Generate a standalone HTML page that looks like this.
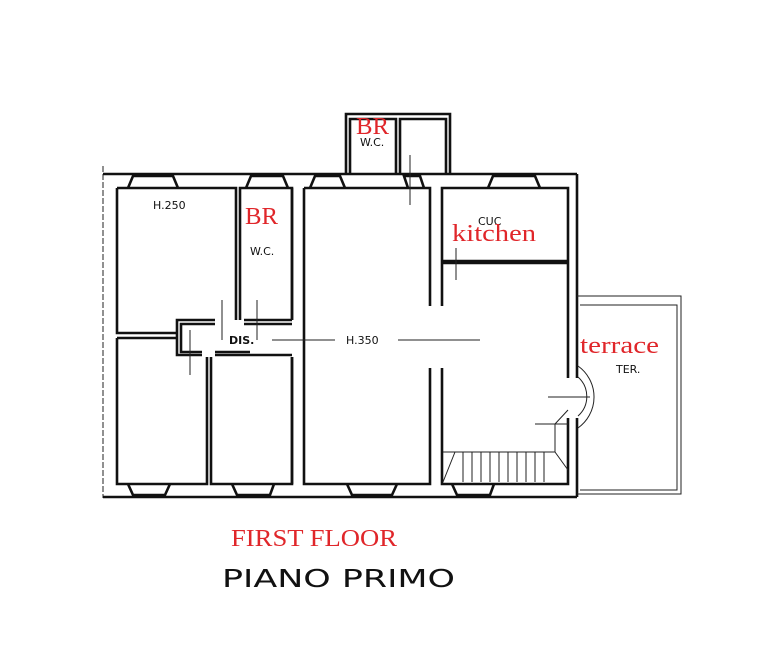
<!DOCTYPE html>
<html><head><meta charset="utf-8"><style>
html,body{margin:0;padding:0;background:#fff;width:760px;height:656px;overflow:hidden}
svg{display:block}
.w{fill:none;stroke:#111;stroke-width:2.6}
.t{fill:none;stroke:#222;stroke-width:1}
.h{font-family:"DejaVu Sans","Liberation Sans",sans-serif;fill:#111;font-size:11px}
.r{font-family:"Liberation Serif",serif;fill:#e0262a}
</style></head><body>
<svg width="760" height="656" viewBox="0 0 760 656" xmlns="http://www.w3.org/2000/svg">
<path class="t" d="M103 166 V498" stroke-dasharray="6 2"/>
<line class="w" x1="103" y1="174" x2="577" y2="174"/>
<line class="w" x1="103" y1="497" x2="577" y2="497"/>
<path class="w" d="M577 174 V378 M577 418 V497"/>
<path class="w" d="M346 174 V114 H450 V174"/>
<path class="w" d="M350 174 V119 H396 V174 M400 174 V119 H446 V174"/>
<path class="w" d="M117 188 H236 V320 M117 188 V333 H177"/>
<path class="w" d="M240 320 V188 H292 V320"/>
<path class="w" d="M177 333 V320 H215 M244 320 H292 M181 338 V324 H215 M244 324 H292"/>
<path class="w" d="M177 333 V355 H202 M181 338 V352 H202 M215 355 H292 M215 352 H250"/>
<path class="w" d="M117 338 H177 M117 338 V484 H207 V357 M211 357 V484 H292 V357"/>
<path class="w" d="M304 188 V484 H430 V368 M304 188 H430 V306 M292 188 V320 M292 357 V484"/>
<path class="w" d="M442 306 V188 H568 V261 H442 M442 368 V484 H568 V418 M442 263 H568 V378"/>
<path class="t" d="M577 296 H681 V494 H577 M580 305 H677 V490 H580"/>
<path class="t" d="M578 366 A38 38 0 0 1 578 428 M578 377 A26 26 0 0 1 578 416"/>
<path class="t" d="M443 452 H555 V424 H568 M455 452 L443 482 M555 452 L568 470 M535 424 H555 M555 424 L568 410"/>
<g class="t">
<line x1="463" y1="452" x2="463" y2="482"/><line x1="472" y1="452" x2="472" y2="482"/><line x1="481" y1="452" x2="481" y2="482"/><line x1="490" y1="452" x2="490" y2="482"/><line x1="499" y1="452" x2="499" y2="482"/><line x1="508" y1="452" x2="508" y2="482"/><line x1="517" y1="452" x2="517" y2="482"/><line x1="526" y1="452" x2="526" y2="482"/><line x1="535" y1="452" x2="535" y2="482"/><line x1="544" y1="452" x2="544" y2="482"/>
</g>
<g class="w">
<path d="M128 188 L133 176 H173 L178 188"/><path d="M246 188 L251 176 H283 L288 188"/>
<path d="M310 188 L315 176 H340 L345 188"/><path d="M408 188 L404 176 H420 L424 188"/>
<path d="M488 188 L493 176 H535 L540 188"/>
<path d="M128 484 L133 495 H165 L170 484"/><path d="M232 484 L237 495 H270 L274 484"/>
<path d="M347 484 L352 495 H392 L397 484"/><path d="M452 484 L457 495 H490 L494 484"/>
</g>
<g class="t">
<line x1="272" y1="340" x2="335" y2="340"/><line x1="398" y1="340" x2="480" y2="340"/>
<line x1="190" y1="330" x2="190" y2="375"/><line x1="222" y1="300" x2="222" y2="340"/>
<line x1="257" y1="300" x2="257" y2="340"/><line x1="430" y1="230" x2="430" y2="270"/>
<line x1="456" y1="248" x2="456" y2="280"/><line x1="548" y1="397" x2="590" y2="397"/>
<line x1="410" y1="155" x2="410" y2="205"/>
</g>
<text class="h" x="153" y="209">H.250</text>
<text class="h" x="250" y="255">W.C.</text>
<text class="h" x="360" y="146" font-size="9">W.C.</text>
<text class="h" x="229" y="344" font-weight="bold">DIS.</text>
<text class="h" x="346" y="344">H.350</text>
<text class="h" x="478" y="225">CUC</text>
<text class="h" x="616" y="373" font-size="10">TER.</text>
<text class="r" x="245" y="224" font-size="24" textLength="33" lengthAdjust="spacingAndGlyphs">BR</text>
<text class="r" x="356" y="134" font-size="24" textLength="33" lengthAdjust="spacingAndGlyphs">BR</text>
<text class="r" x="452" y="241" font-size="24" textLength="84" lengthAdjust="spacingAndGlyphs">kitchen</text>
<text class="r" x="580" y="353" font-size="24" textLength="79" lengthAdjust="spacingAndGlyphs">terrace</text>
<text class="r" x="231" y="546" font-size="24" textLength="166" lengthAdjust="spacingAndGlyphs">FIRST FLOOR</text>
<text x="222" y="587" font-family="DejaVu Sans,sans-serif" font-size="25" fill="#111" textLength="233" lengthAdjust="spacingAndGlyphs">PIANO  PRIMO</text>
</svg>
</body></html>
